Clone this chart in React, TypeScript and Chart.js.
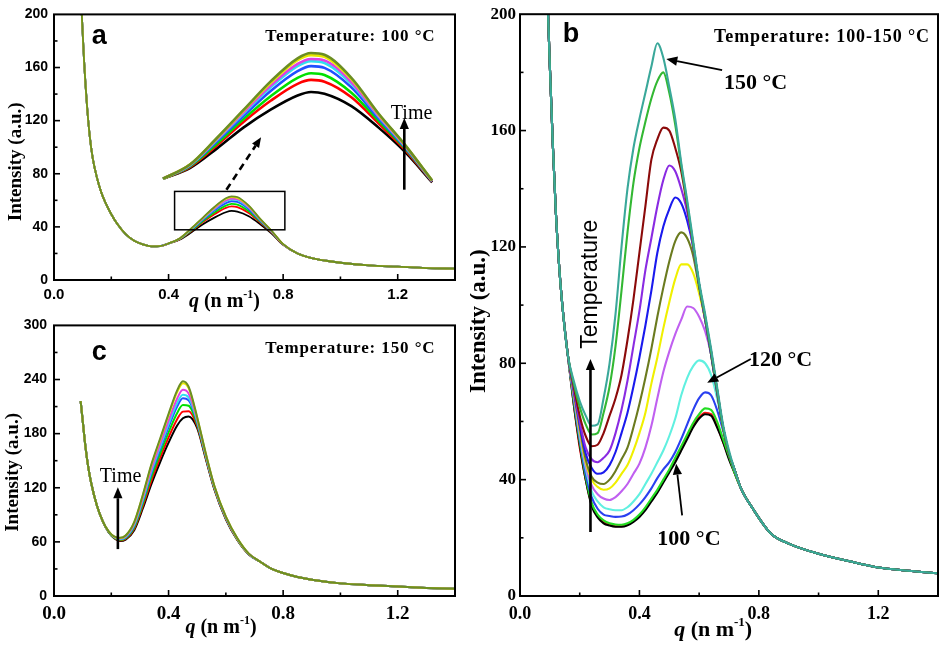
import React, { useEffect, useRef } from "react";
import { Chart, registerables } from "chart.js";
Chart.register(...registerables);

const SERIF = '"Liberation Serif", "Times New Roman", serif';
const SANS = '"Liberation Sans", Arial, sans-serif';

// ---------------- Panel a : 100 °C, intensity vs q over time ----------------
const qA = [0.097, 0.105, 0.115, 0.125, 0.135, 0.15, 0.165, 0.18, 0.2, 0.22, 0.25, 0.28, 0.31, 0.34, 0.37, 0.4, 0.44, 0.48, 0.52, 0.56, 0.6, 0.62, 0.64, 0.68, 0.72, 0.76, 0.8, 0.85, 0.9, 0.95, 1.0, 1.1, 1.2, 1.3, 1.4];
const aBlack = [200, 165, 132, 108, 92, 77, 66, 58, 49.5, 42.5, 34.5, 29.5, 26.8, 25.3, 25.5, 27.5, 30.5, 36, 42, 47, 51, 52, 51.5, 48, 42, 35, 26.5, 20, 16.5, 14.5, 13, 11, 10, 9, 8.5];
const aRed = [200, 165, 132, 108, 92, 77, 66, 58, 49.5, 42.5, 34.5, 29.5, 26.8, 25.3, 25.5, 27.5, 30.8, 36.9, 43.6, 49.5, 54.3, 55.4, 54.9, 50.5, 43.2, 35.6, 26.7, 20, 16.5, 14.5, 13, 11, 10, 9, 8.5];
const aGreen = [200, 165, 132, 108, 92, 77, 66, 58, 49.5, 42.5, 34.5, 29.5, 26.8, 25.3, 25.5, 27.5, 31.0, 37.4, 44.4, 50.8, 56.0, 57.3, 56.8, 51.8, 43.9, 36.0, 26.8, 20, 16.5, 14.5, 13, 11, 10, 9, 8.5];
const aBlue = [200, 165, 132, 108, 92, 77, 66, 58, 49.5, 42.5, 34.5, 29.5, 26.8, 25.3, 25.5, 27.5, 31.2, 38.0, 45.3, 52.3, 57.9, 59.3, 58.8, 53.3, 44.6, 36.3, 26.8, 20, 16.5, 14.5, 13, 11, 10, 9, 8.5];
const aCyan = [200, 165, 132, 108, 92, 77, 66, 58, 49.5, 42.5, 34.5, 29.5, 26.8, 25.3, 25.5, 27.5, 31.3, 38.4, 46.0, 53.3, 59.3, 60.7, 60.2, 54.3, 45.2, 36.6, 26.9, 20, 16.5, 14.5, 13, 11, 10, 9, 8.5];
const aMagenta = [200, 165, 132, 108, 92, 77, 66, 58, 49.5, 42.5, 34.5, 29.5, 26.8, 25.3, 25.5, 27.5, 31.4, 38.6, 46.3, 53.8, 59.9, 61.3, 60.9, 54.8, 45.4, 36.7, 26.9, 20, 16.5, 14.5, 13, 11, 10, 9, 8.5];
const aYellow = [200, 165, 132, 108, 92, 77, 66, 58, 49.5, 42.5, 34.5, 29.5, 26.8, 25.3, 25.5, 27.5, 31.5, 38.9, 46.8, 54.6, 61.0, 62.4, 61.9, 55.6, 45.8, 36.9, 27.0, 20, 16.5, 14.5, 13, 11, 10, 9, 8.5];
const aOlive = [200, 165, 132, 108, 92, 77, 66, 58, 49.5, 42.5, 34.5, 29.5, 26.8, 25.3, 25.5, 27.5, 31.5, 39.0, 47.0, 55.0, 61.5, 63.0, 62.5, 56.0, 46.0, 37.0, 27.0, 20, 16.5, 14.5, 13, 11, 10, 9, 8.5];
const aSeries = [aBlack, aRed, aGreen, aBlue, aCyan, aMagenta, aYellow, aOlive];
const insetRange = [0.4, 0.8];

// ---------------- Panel c : 150 °C, intensity vs q over time ----------------
const qC = [0.093, 0.1, 0.11, 0.12, 0.13, 0.15, 0.17, 0.19, 0.21, 0.23, 0.25, 0.28, 0.31, 0.34, 0.37, 0.4, 0.43, 0.45, 0.47, 0.5, 0.53, 0.56, 0.6, 0.64, 0.68, 0.72, 0.76, 0.8, 0.85, 0.9, 1.0, 1.1, 1.2, 1.3, 1.4];
const cBlack = [216, 195, 165, 142, 125, 100, 83, 71, 64, 61, 62.5, 73, 97, 124, 148, 170, 189, 197, 199, 186, 152, 118, 85, 62, 46, 38, 30, 25.5, 21, 18, 14, 12, 10.5, 9, 8];
const cRed = [216, 195, 165, 142, 125, 100, 83, 71.2, 64.4, 61.6, 63.3, 74.6, 99.7, 128, 152.7, 175.8, 196, 204.4, 204.9, 188.2, 153.1, 118.7, 85.5, 62.4, 46.2, 38, 30, 25.5, 21, 18, 14, 12, 10.5, 9, 8];
const cGreen = [216, 195, 165, 142, 125, 100, 83, 71.4, 64.7, 62.3, 64.1, 76.2, 102.4, 131.9, 157.4, 181.5, 203, 211.8, 210.9, 190.3, 154.2, 119.4, 86.1, 62.7, 46.4, 38, 30, 25.5, 21, 18, 14, 12, 10.5, 9, 8];
const cBlue = [216, 195, 165, 142, 125, 100, 83, 71.5, 65.1, 62.9, 64.9, 77.9, 105.1, 135.9, 162, 187.3, 210.1, 219.1, 216.8, 192.5, 155.2, 120.2, 86.6, 63.1, 46.5, 38, 30, 25.5, 21, 18, 14, 12, 10.5, 9, 8];
const cCyan = [216, 195, 165, 142, 125, 100, 83, 71.6, 65.3, 63.2, 65.4, 78.8, 106.6, 138.1, 164.6, 190.5, 214, 223.2, 220.1, 193.7, 155.8, 120.6, 86.9, 63.3, 46.6, 38, 30, 25.5, 21, 18, 14, 12, 10.5, 9, 8];
const cMagenta = [216, 195, 165, 142, 125, 100, 83, 71.8, 65.5, 63.7, 66, 79.9, 108.6, 140.9, 168, 194.6, 219, 228.6, 224.4, 195.2, 156.6, 121.1, 87.3, 63.5, 46.8, 38, 30, 25.5, 21, 18, 14, 12, 10.5, 9, 8];
const cYellow = [216, 195, 165, 142, 125, 100, 83, 72, 65.9, 64.3, 66.8, 81.6, 111.3, 144.9, 172.7, 200.4, 226, 236, 230.4, 197.4, 157.7, 121.8, 87.9, 63.9, 47, 38, 30, 25.5, 21, 18, 14, 12, 10.5, 9, 8];
const cOlive = [216, 195, 165, 142, 125, 100, 83, 72, 66, 64.5, 67, 82, 112, 146, 174, 202, 228, 238, 232, 198, 158, 122, 88, 64, 47, 38, 30, 25.5, 21, 18, 14, 12, 10.5, 9, 8];
const cSeries = [cBlack, cRed, cGreen, cBlue, cCyan, cMagenta, cYellow, cOlive];
const timeColors = ["#000000", "#ff0000", "#00e000", "#2050ff", "#30e0f0", "#e040e0", "#e8e800", "#6b8e23"];

// ---------------- Panel b : 100 -> 150 °C ----------------
const qB = [0.094, 0.1, 0.11, 0.12, 0.13, 0.14, 0.16, 0.18, 0.2, 0.22, 0.24, 0.26, 0.28, 0.3, 0.32, 0.34, 0.36, 0.38, 0.4, 0.42, 0.44, 0.46, 0.48, 0.5, 0.52, 0.54, 0.56, 0.58, 0.6, 0.62, 0.64, 0.66, 0.68, 0.7, 0.72, 0.74, 0.78, 0.84, 0.9, 1.0, 1.1, 1.2, 1.3, 1.4];
const bRed = [200, 182, 155, 132, 115, 102, 83, 66, 51, 40, 31.5, 27.5, 25.5, 24.5, 24, 24, 24.5, 25.8, 27.5, 30, 33, 36, 39.5, 43, 46.6, 50.5, 54.5, 58.5, 61.5, 63, 62.5, 58.5, 53, 47.5, 42, 37, 30, 21.5, 18, 14.5, 12, 9.8, 8.7, 7.8];
const bBlack = [200, 182, 155, 132, 115, 102, 83, 66, 52, 40, 31, 27, 25, 24.2, 23.8, 23.8, 24.3, 25.5, 27.2, 29.5, 32.5, 35.5, 39, 42.5, 46, 50, 54, 58, 61, 62.5, 62, 58, 53, 47, 42, 37, 30, 21.5, 18, 14.5, 12, 9.8, 8.7, 7.8];
const bGreenLow = [200, 182, 155, 132, 115, 102, 83, 67, 53, 41, 32, 28, 26, 25, 24.6, 24.5, 25, 26.2, 28, 30.5, 33.5, 36.5, 40, 43.5, 47.5, 51.5, 55.5, 59.5, 62.5, 64.5, 64, 60, 54, 48, 42, 37, 30, 21.5, 18, 14.5, 12, 9.8, 8.7, 7.8];
const bBlue120 = [200, 182, 155, 132, 115, 102, 83, 68, 54, 42, 34, 30, 28, 27.5, 27.2, 27.3, 28, 29.5, 31.5, 34, 37, 40.5, 43.5, 46, 49.5, 54, 59, 64, 68, 70, 69, 64, 57, 49, 43, 37, 30, 21.5, 18, 14.5, 12, 9.8, 8.7, 7.8];
const bCyan = [200, 182, 155, 132, 115, 102, 83, 69, 55, 44, 36, 32.5, 30.5, 29.8, 29.5, 29.5, 30.5, 32.5, 35, 38.5, 42, 46, 50, 55, 61, 69, 75, 79, 81, 80, 76, 68, 58, 49, 43, 37, 30, 21.5, 18, 14.5, 12, 9.8, 8.7, 7.8];
const bViolet = [200, 182, 155, 132, 115, 102, 83, 69, 56, 45, 38, 35, 33.5, 33, 34, 36, 38.5, 42, 45.5, 51, 58.5, 68, 77, 84, 90, 95, 99.5, 99, 96, 91, 83, 70, 58, 49, 43, 37, 30, 21.5, 18, 14.5, 12, 9.8, 8.7, 7.8];
const bYellow = [200, 182, 155, 132, 115, 102, 83, 70, 57, 46, 40, 37.5, 36.5, 37, 39, 42, 45, 50, 56, 63, 73, 82, 92, 101, 109, 114, 114, 111, 104, 95, 83, 70, 58, 49, 43, 37, 30, 21.5, 18, 14.5, 12, 9.8, 8.7, 7.8];
const bOlive = [200, 182, 155, 132, 115, 102, 83, 70, 58, 47, 41, 39, 38.5, 40, 43, 47, 51, 58, 66, 75, 85, 96, 106, 115, 122, 125, 123, 117, 106, 95, 83, 70, 58, 49, 43, 37, 30, 21.5, 18, 14.5, 12, 9.8, 8.7, 7.8];
const bBlue = [200, 182, 155, 132, 115, 102, 83, 71, 59, 49, 44, 42, 42.5, 45, 49.5, 56, 63, 72, 82, 93, 105, 118, 127, 133, 137, 135, 129, 120, 107, 95, 83, 70, 58, 49, 43, 37, 30, 21.5, 18, 14.5, 12, 9.8, 8.7, 7.8];
const bPurple = [200, 182, 155, 132, 115, 102, 83, 71, 60, 51, 47, 46, 47.5, 50, 56, 64, 74, 86, 98, 112, 123, 134, 143, 148, 146, 140, 132, 120, 107, 95, 84, 71, 58, 49, 43, 37, 30, 21.5, 18, 14.5, 12, 9.8, 8.7, 7.8];
const bDarkRed = [200, 182, 155, 132, 115, 102, 83, 72, 62, 55, 51.5, 52, 56, 62, 68, 76, 88, 102, 118, 134, 150, 157, 161, 160, 154, 146, 134, 121, 107, 96, 84, 71, 58, 49, 43, 37, 30, 21.5, 18, 14.5, 12, 9.8, 8.7, 7.8];
const bGreen = [200, 182, 155, 132, 115, 102, 83, 73, 65, 59, 55.5, 56, 63, 72, 86, 105, 125, 142, 154, 163, 171, 177, 180, 173, 162, 148, 135, 121, 107, 96, 84, 71, 58, 49, 43, 37, 30, 21.5, 18, 14.5, 12, 9.8, 8.7, 7.8];
const bTeal = [200, 182, 155, 132, 115, 102, 83, 74, 67, 62, 58.5, 59, 68, 80, 97, 120, 140, 154, 164, 173, 182, 190, 185, 175, 164, 149, 136, 122, 108, 97, 85, 72, 59, 50, 43, 37, 30, 21.5, 18, 14.5, 12, 9.8, 8.7, 7.8];
const bSeries = [bRed, bBlack, bGreenLow, bBlue120, bCyan, bViolet, bYellow, bOlive, bBlue, bPurple, bDarkRed, bGreen, bTeal];
const bColors = ["#ff1010", "#000000", "#22dd22", "#2a40f0", "#60f0e0", "#c060f0", "#f0f000", "#6b7b1f", "#1a1aee", "#8a2be2", "#8b0a0a", "#33b833", "#3aa89a"];

// ---------------- helpers ----------------
function pts(xs: number[], ys: number[]) {
  return xs.map((x, i) => ({ x, y: ys[i] }));
}
function lineDs(xs: number[], ys: number[], color: string, width: number, extra: any = {}) {
  return {
    data: pts(xs, ys),
    borderColor: color,
    backgroundColor: color,
    borderWidth: width,
    pointRadius: 0,
    fill: false,
    cubicInterpolationMode: "monotone",
    ...extra,
  };
}
function txt(ctx: any, s: string, x: number, y: number, font: string, align = "left", ls = 0) {
  ctx.save();
  ctx.font = font;
  ctx.fillStyle = "#000";
  ctx.textAlign = align;
  ctx.textBaseline = "alphabetic";
  ctx.letterSpacing = ls + "px";
  ctx.fillText(s, x, y);
  ctx.restore();
}
function vtxt(ctx: any, s: string, cx: number, cy: number, font: string) {
  ctx.save();
  ctx.translate(cx, cy);
  ctx.rotate(-Math.PI / 2);
  ctx.font = font;
  ctx.fillStyle = "#000";
  ctx.textAlign = "center";
  ctx.textBaseline = "middle";
  ctx.fillText(s, 0, 0);
  ctx.restore();
}
function arrow(ctx: any, x1: number, y1: number, x2: number, y2: number, lw: number, head: number, dash?: number[]) {
  const a = Math.atan2(y2 - y1, x2 - x1);
  const bx = x2 - head * Math.cos(a);
  const by = y2 - head * Math.sin(a);
  const w = head * 0.42;
  ctx.save();
  ctx.strokeStyle = "#000";
  ctx.fillStyle = "#000";
  ctx.lineWidth = lw;
  if (dash) ctx.setLineDash(dash);
  ctx.beginPath();
  ctx.moveTo(x1, y1);
  ctx.lineTo(bx, by);
  ctx.stroke();
  ctx.setLineDash([]);
  ctx.beginPath();
  ctx.moveTo(x2, y2);
  ctx.lineTo(bx - w * Math.sin(a), by + w * Math.cos(a));
  ctx.lineTo(bx + w * Math.sin(a), by - w * Math.cos(a));
  ctx.closePath();
  ctx.fill();
  ctx.restore();
}
function qTitle(ctx: any, cx: number, base: number, size: number) {
  const parts = [
    { t: "q", f: `italic bold ${size}px ${SERIF}`, dy: 0 },
    { t: " (n m", f: `bold ${size}px ${SERIF}`, dy: 0 },
    { t: "-1", f: `bold ${Math.round(size * 0.6)}px ${SERIF}`, dy: -size * 0.45 },
    { t: ")", f: `bold ${size}px ${SERIF}`, dy: 0 },
  ];
  ctx.save();
  let w = 0;
  const ws = parts.map((p) => {
    ctx.font = p.f;
    const m = ctx.measureText(p.t).width;
    w += m;
    return m;
  });
  let x = cx - w / 2;
  parts.forEach((p, i) => {
    txt(ctx, p.t, x, base + p.dy, p.f);
    x += ws[i];
  });
  ctx.restore();
}

function frameTicks(xMajor: number, xMinor: number, yMajor: number, yMinor: number, draw: (c: any) => void) {
  return {
    id: "frameTicks",
    afterDraw(chart: any) {
      const { ctx, chartArea } = chart;
      const { left, right, top, bottom } = chartArea;
      const xs = chart.scales.x;
      const ys = chart.scales.y;
      ctx.save();
      ctx.strokeStyle = "#000";
      ctx.lineWidth = 1.6;
      const nx = Math.round((xs.max - xs.min) / xMinor);
      for (let k = 1; k < nx + 1; k++) {
        const v = xs.min + k * xMinor;
        const px = xs.getPixelForValue(v);
        if (px >= right - 1) continue;
        const r = v / xMajor;
        const len = Math.abs(r - Math.round(r)) < 1e-6 ? 6 : 3.5;
        ctx.beginPath();
        ctx.moveTo(px, bottom);
        ctx.lineTo(px, bottom - len);
        ctx.stroke();
      }
      const ny = Math.round((ys.max - ys.min) / yMinor);
      for (let k = 1; k < ny; k++) {
        const v = ys.min + k * yMinor;
        const py = ys.getPixelForValue(v);
        const r = v / yMajor;
        const len = Math.abs(r - Math.round(r)) < 1e-6 ? 6 : 3.5;
        ctx.beginPath();
        ctx.moveTo(left, py);
        ctx.lineTo(left + len, py);
        ctx.stroke();
      }
      ctx.lineWidth = 2;
      ctx.strokeRect(left, top, right - left, bottom - top);
      ctx.restore();
      draw(chart);
    },
  };
}

function buildConfig(o: any) {
  return {
    type: "line",
    data: { datasets: o.datasets },
    options: {
      responsive: false,
      animation: false,
      devicePixelRatio: 1,
      events: [],
      layout: { padding: { left: 0, top: o.padTop, right: o.padRight, bottom: 0 } },
      plugins: { legend: { display: false }, tooltip: { enabled: false } },
      scales: {
        x: {
          type: "linear",
          min: 0,
          max: 1.4,
          afterFit: (s: any) => {
            s.height = o.xH;
          },
          grid: { display: false, drawTicks: false },
          border: { display: false },
          ticks: {
            stepSize: 0.4,
            includeBounds: false,
            padding: o.xPad,
            color: "#000",
            font: o.xFont,
            maxRotation: 0,
            autoSkip: false,
            callback: (v: any) => Number(v).toFixed(1),
          },
        },
        y: {
          type: "linear",
          min: 0,
          max: o.yMax,
          afterFit: (s: any) => {
            s.width = o.yW;
          },
          grid: { display: false, drawTicks: false },
          border: { display: false },
          ticks: {
            stepSize: o.yStep,
            padding: o.yPad,
            color: "#000",
            font: o.yFont,
            callback: (v: any) => String(Math.round(Number(v))),
          },
        },
        ...(o.extraScales || {}),
      },
    },
    plugins: [frameTicks(0.4, 0.2, o.yStep, o.yStep / 2, o.draw)],
  };
}

// ---------------- panel configs ----------------
function configA() {
  const ds: any[] = [];
  // inset (zoomed peak)
  for (let i = aSeries.length - 1; i >= 0; i--) {
    const sel = qA.map((q, k) => ({ x: q, y: aSeries[i][k] })).filter((p) => p.x >= insetRange[0] - 1e-9 && p.x <= insetRange[1] + 1e-9);
    ds.push({
      data: sel,
      borderColor: timeColors[i],
      borderWidth: 2.6,
      pointRadius: 0,
      fill: false,
      cubicInterpolationMode: "monotone",
      xAxisID: "xi",
      yAxisID: "yi",
    });
  }
  for (let i = aSeries.length - 1; i >= 0; i--) ds.push(lineDs(qA, aSeries[i], timeColors[i], 1.8));
  return buildConfig({
    datasets: ds,
    yMax: 200,
    yStep: 40,
    padTop: 10,
    padRight: 15,
    yW: 54,
    xH: 38,
    xPad: 6,
    yPad: 6,
    xFont: { family: SANS, size: 15, weight: "bold" },
    yFont: { family: SANS, size: 14, weight: "bold" },
    extraScales: {
      xi: { type: "linear", display: false, min: 0.238, max: 0.834 },
      yi: { type: "linear", display: false, min: -1.1, max: 73.9 },
    },
    draw: (chart: any) => {
      const { ctx, chartArea } = chart;
      const X = (v: number) => chart.scales.x.getPixelForValue(v);
      const Y = (v: number) => chart.scales.y.getPixelForValue(v);
      txt(ctx, "a", X(0.132), Y(177.8), `bold 27px ${SANS}`);
      txt(ctx, "Temperature: 100 °C", X(1.332), Y(180), `bold 17px ${SERIF}`, "right", 0.9);
      ctx.save();
      ctx.lineWidth = 1.5;
      ctx.strokeStyle = "#000";
      ctx.strokeRect(X(0.421), Y(66.7), X(0.806) - X(0.421), Y(37.8) - Y(66.7));
      ctx.restore();
      arrow(ctx, X(0.602), Y(68), X(0.723), Y(107.4), 2.6, 10, [7, 5]);
      txt(ctx, "Time", X(1.176), Y(121.5), `20px ${SERIF}`);
      arrow(ctx, X(1.223), Y(68), X(1.223), Y(122), 2.6, 11);
      vtxt(ctx, "Intensity (a.u.)", chartArea.left - 38, Y(89), `bold 19px ${SERIF}`);
      qTitle(ctx, X(0.595), chartArea.bottom + 27, 20);
    },
  });
}

function configC() {
  const ds: any[] = [];
  for (let i = cSeries.length - 1; i >= 0; i--) ds.push(lineDs(qC, cSeries[i], timeColors[i], 2));
  return buildConfig({
    datasets: ds,
    yMax: 300,
    yStep: 60,
    padTop: 10,
    padRight: 15,
    yW: 54,
    xH: 52,
    xPad: 7,
    yPad: 7,
    xFont: { family: SERIF, size: 19, weight: "bold" },
    yFont: { family: SANS, size: 14, weight: "bold" },
    draw: (chart: any) => {
      const { ctx, chartArea } = chart;
      const X = (v: number) => chart.scales.x.getPixelForValue(v);
      const Y = (v: number) => chart.scales.y.getPixelForValue(v);
      txt(ctx, "c", X(0.132), Y(262), `bold 27px ${SANS}`);
      txt(ctx, "Temperature: 150 °C", X(1.332), Y(269.6), `bold 17px ${SERIF}`, "right", 0.9);
      txt(ctx, "Time", X(0.16), Y(126), `20px ${SERIF}`);
      arrow(ctx, X(0.223), Y(52), X(0.223), Y(120.6), 2.6, 11);
      vtxt(ctx, "Intensity (a.u.)", chartArea.left - 41, Y(137), `bold 19px ${SERIF}`);
      qTitle(ctx, X(0.583), chartArea.bottom + 37, 20);
    },
  });
}

function configB() {
  const ds: any[] = [];
  for (let i = bSeries.length - 1; i >= 0; i--) ds.push(lineDs(qB, bSeries[i], bColors[i], 2.1));
  return buildConfig({
    datasets: ds,
    yMax: 200,
    yStep: 40,
    padTop: 12,
    padRight: 5,
    yW: 50,
    xH: 52,
    xPad: 8,
    yPad: 4,
    xFont: { family: SERIF, size: 18, weight: "bold" },
    yFont: { family: SERIF, size: 17, weight: "bold" },
    draw: (chart: any) => {
      const { ctx, chartArea } = chart;
      const X = (v: number) => chart.scales.x.getPixelForValue(v);
      const Y = (v: number) => chart.scales.y.getPixelForValue(v);
      txt(ctx, "b", X(0.143), Y(190.4), `bold 27px ${SANS}`);
      txt(ctx, "Temperature: 100-150 °C", X(1.373), Y(190.4), `bold 18px ${SERIF}`, "right", 0.9);
      txt(ctx, "150 °C", X(0.683), Y(174.3), `bold 22px ${SERIF}`);
      arrow(ctx, X(0.677), Y(180.8), X(0.49), Y(184.6), 1.8, 11);
      vtxt(ctx, "Temperature", X(0.237), Y(107.2), `23px ${SANS}`);
      arrow(ctx, X(0.236), Y(22), X(0.236), Y(81.5), 2.6, 11);
      txt(ctx, "120 °C", X(0.767), Y(79.1), `bold 22px ${SERIF}`);
      arrow(ctx, X(0.773), Y(81.5), X(0.627), Y(73.3), 1.8, 11);
      txt(ctx, "100 °C", X(0.46), Y(17.5), `bold 22px ${SERIF}`);
      arrow(ctx, X(0.543), Y(27.7), X(0.523), Y(45.5), 1.8, 11);
      vtxt(ctx, "Intensity (a.u.)", chartArea.left - 41, Y(94.5), `bold 23px ${SERIF}`);
      qTitle(ctx, X(0.647), chartArea.bottom + 40, 22);
    },
  });
}

function Panel(props: { left: number; top: number; width: number; height: number; build: () => any }) {
  const ref = useRef<HTMLCanvasElement>(null);
  useEffect(() => {
    const chart = new Chart(ref.current as HTMLCanvasElement, props.build());
    return () => chart.destroy();
  }, []);
  return (
    <canvas
      ref={ref}
      width={props.width}
      height={props.height}
      style={{ position: "absolute", left: props.left, top: props.top, width: props.width, height: props.height }}
    />
  );
}

export default function App() {
  return (
    <div style={{ position: "absolute", left: 0, top: 0, width: 943, height: 648, background: "#fff", overflow: "hidden" }}>
      <Panel left={0} top={0} width={470} height={318} build={configA} />
      <Panel left={0} top={310} width={470} height={338} build={configC} />
      <Panel left={470} top={0} width={473} height={648} build={configB} />
    </div>
  );
}
